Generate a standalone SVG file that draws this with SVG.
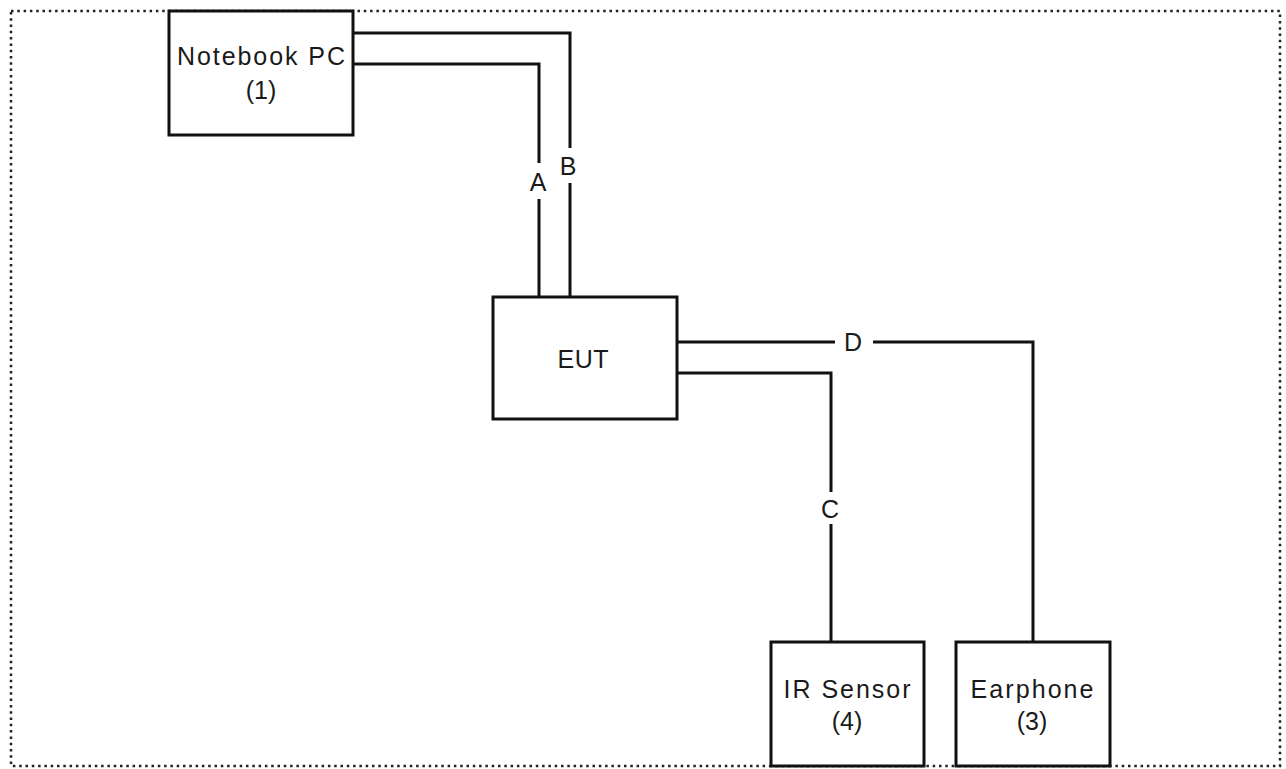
<svg xmlns="http://www.w3.org/2000/svg" width="1286" height="769" viewBox="0 0 1286 769">
<style>
.box{fill:#fff;stroke:#111;stroke-width:3}
.ln{fill:none;stroke:#111;stroke-width:3}
text{font-family:"Liberation Sans",Arial,sans-serif;font-size:25px;fill:#1a1a1a;text-anchor:middle}
</style>
<rect width="1286" height="769" fill="#fff"/>
<rect x="11" y="11" width="1269" height="755" fill="none" stroke="#222" stroke-width="2.5" stroke-dasharray="2.5 3.8"/>
<g id="connectors">
<polyline class="ln" points="353,33 570,33 570,148"/>
<line class="ln" x1="570" y1="183" x2="570" y2="297"/>
<polyline class="ln" points="353,64 539,64 539,163"/>
<line class="ln" x1="539" y1="199" x2="539" y2="297"/>
<polyline class="ln" points="677,342 835,342"/>
<polyline class="ln" points="873,342 1033,342 1033,642"/>
<polyline class="ln" points="677,373 831,373 831,492"/>
<line class="ln" x1="831" y1="524" x2="831" y2="642"/>
<text x="538" y="191">A</text>
<text x="568" y="175">B</text>
<text x="853" y="351">D</text>
<text x="830" y="518">C</text>
</g>
<g id="notebook">
<rect class="box" x="169" y="11" width="184" height="124"/>
<text x="261" y="65" textLength="168" lengthAdjust="spacing">Notebook PC</text>
<text x="261" y="99">(1)</text>
</g>
<g id="eut">
<rect class="box" x="493" y="297" width="184" height="122"/>
<text x="583" y="368" textLength="51" lengthAdjust="spacing">EUT</text>
</g>
<g id="ir">
<rect class="box" x="771" y="642" width="153" height="124"/>
<text x="847" y="698" textLength="127" lengthAdjust="spacing">IR Sensor</text>
<text x="847" y="730">(4)</text>
</g>
<g id="earphone">
<rect class="box" x="956" y="642" width="154" height="124"/>
<text x="1032" y="698" textLength="123" lengthAdjust="spacing">Earphone</text>
<text x="1032" y="730">(3)</text>
</g>
</svg>
